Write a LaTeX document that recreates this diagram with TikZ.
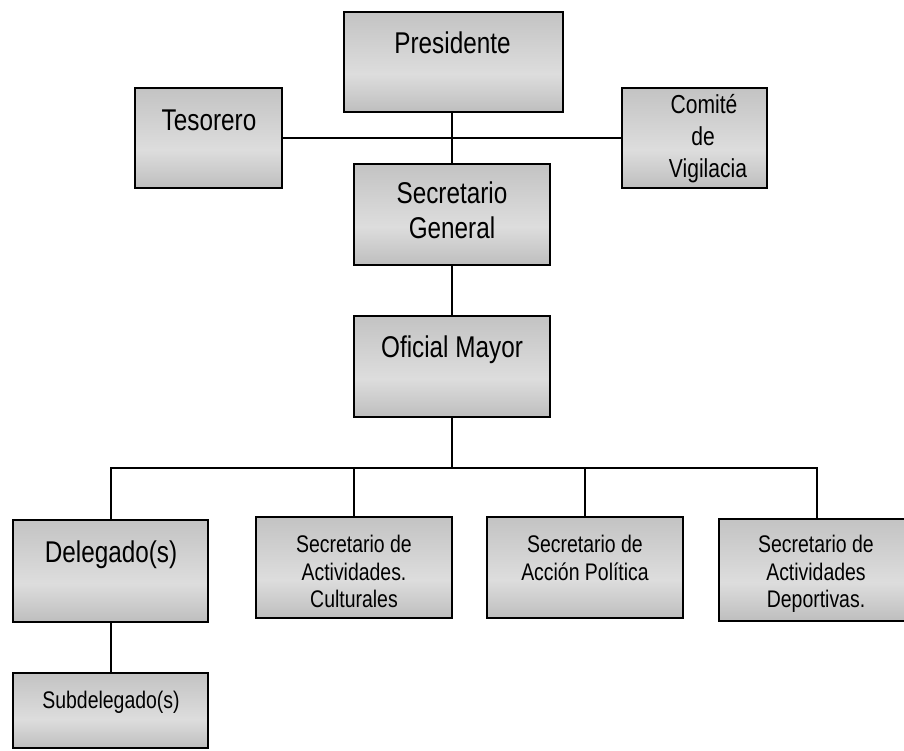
\documentclass[tikz,border=0pt]{standalone}
\usepackage{fontspec}
\setmainfont[FakeStretch=0.81]{Liberation Sans}
\definecolor{boxdark}{HTML}{BEBEBE}
\definecolor{boxlight}{HTML}{DDDDDD}
\definecolor{boxtop}{HTML}{C3C3C3}
\pgfdeclareverticalshading{boxshade}{100bp}{color(0bp)=(boxdark); color(25bp)=(boxdark); color(44bp)=(boxlight); color(75bp)=(boxtop); color(100bp)=(boxtop)}
\tikzset{
  orgbox/.style={draw=black, line width=2.2pt, shading=boxshade, inner sep=0pt, rectangle},
  big/.style={anchor=base, inner sep=0pt, font=\fontsize{30}{36}\selectfont},
  mid/.style={anchor=base, inner sep=0pt, font=\fontsize{26}{32}\selectfont},
  small/.style={anchor=base, inner sep=0pt, font=\fontsize{24}{28}\selectfont},
  link/.style={draw=black, line width=2pt}
}
\begin{document}
\begin{tikzpicture}[x=1pt,y=-1pt]
\clip (0,0) rectangle (904,750);
\fill[white] (0,0) rectangle (904,750);
% boxes
\node[orgbox, minimum width=219pt, minimum height=100pt] (pres) at (453.5,62) {};
\node[orgbox, minimum width=147pt, minimum height=100pt] (tes) at (208.5,138) {};
\node[orgbox, minimum width=145pt, minimum height=100pt] (com) at (694.5,138) {};
\node[orgbox, minimum width=196pt, minimum height=101pt] (sg) at (452,214.5) {};
\node[orgbox, minimum width=196pt, minimum height=101pt] (om) at (452,366.5) {};
\node[orgbox, minimum width=195pt, minimum height=102pt] (del) at (110.5,571) {};
\node[orgbox, minimum width=196pt, minimum height=101pt] (sac) at (354,567.5) {};
\node[orgbox, minimum width=196pt, minimum height=101pt] (sap) at (585,567.5) {};
\node[orgbox, minimum width=195pt, minimum height=102pt] (sad) at (816.5,570) {};
\node[orgbox, minimum width=195pt, minimum height=75pt] (sub) at (110.5,710.5) {};
% labels
\node[big] (presT) at (452.5,53) {Presidente};
\node[big] (tesT) at (209,130) {Tesorero};
\node[mid] (comT1) at (704,113) {Comité};
\node[mid] (comT2) at (703,145) {de};
\node[mid] (comT3) at (708,177) {Vigilacia};
\node[big] (sgT1) at (452,203) {Secretario};
\node[big] (sgT2) at (452,238) {General};
\node[big] (omT) at (452,357) {Oficial Mayor};
\node[big] (delT) at (111,562) {Delegado(s)};
\node[small] (sacT1) at (354,552) {Secretario de};
\node[small] (sacT2) at (354,580) {Actividades.};
\node[small] (sacT3) at (354,607) {Culturales};
\node[small] (sapT1) at (585,552) {Secretario de};
\node[small] (sapT2) at (585,580) {Acción Política};
\node[small] (sadT1) at (816,552) {Secretario de};
\node[small] (sadT2) at (816,580) {Actividades};
\node[small] (sadT3) at (816,607) {Deportivas.};
\node[small] (subT) at (111,708) {Subdelegado(s)};
% connectors
\coordinate (j) at (452,468);
\draw[link] (sg.north |- pres.south) -- (sg.north);
\draw[link] (tes.east) -- (com.west);
\draw[link] (sg.south) -- (om.north);
\draw[link] (om.south) -- (j);
\draw[link] (del.north) -- (del.north |- j) -- (sad.north |- j) -- (sad.north);
\draw[link] (sac.north) -- (sac.north |- j);
\draw[link] (sap.north) -- (sap.north |- j);
\draw[link] (del.south) -- (sub.north);
\end{tikzpicture}
\end{document}
